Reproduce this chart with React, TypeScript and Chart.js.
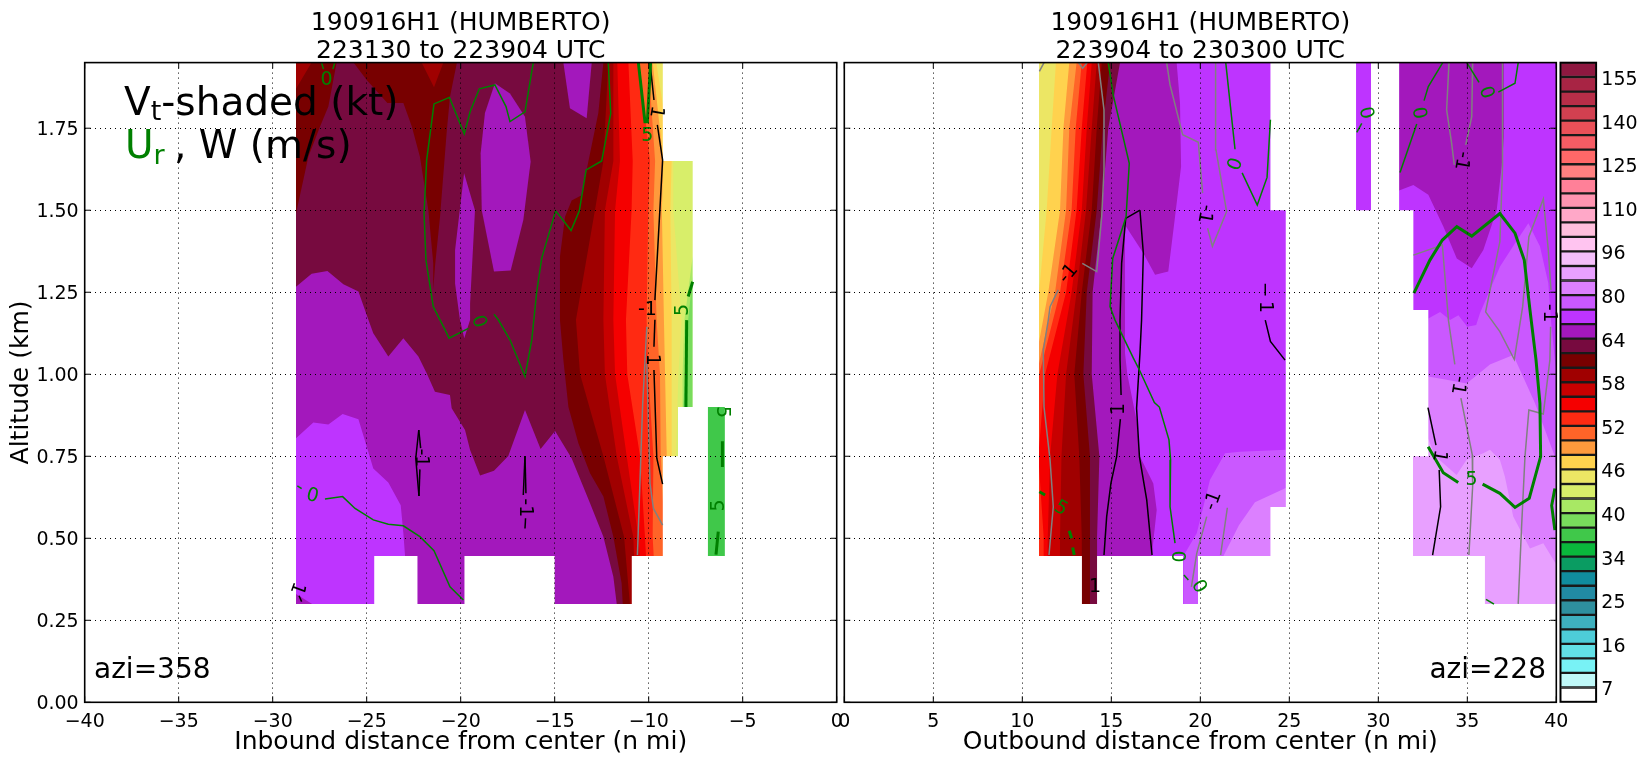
import { useEffect, useRef } from 'react'
import { Chart, registerables } from 'chart.js'

Chart.register(...registerables)
Chart.defaults.font.family = '"DejaVu Sans"'
Chart.defaults.color = '#000'

type Pt = [number, number]

// colour bar, bottom to top
const barColors = [
  '#ffffff', '#c0f9f9', '#78f2f5', '#62e0e6', '#4dccd8', '#3eb0be', '#2e909f', '#218aa3', '#108c9e',
  '#0a9c62', '#0ab83c', '#40c84a', '#78dc5c', '#a8e864', '#d8ee6a', '#ece664', '#ffd24e', '#ff9a3c',
  '#ff6428', '#ff2a12', '#f50000', '#c80000', '#a00000', '#780000', '#770a3f', '#a318bc', '#be34ff',
  '#ca58ff', '#dc80ff', '#e8a0ff', '#f4befa', '#ffc4f0', '#ffbedc', '#ffa8c8', '#ff94b0', '#ff8098',
  '#ff8080', '#ff6868', '#f65c64', '#ea5058', '#d24050', '#b82e48', '#a82444', '#8e1840',
]
const barTickIndex = [1, 4, 7, 10, 13, 16, 19, 22, 25, 28, 31, 34, 37, 40, 43]
const barTickLabels = ['7', '16', '25', '34', '40', '46', '52', '58', '64', '80', '96', '110', '125', '140', '155']

const BRIGHT = '#be34ff', PURPLE = '#a318bc', PLUM = '#770a3f', DARK = '#780000', MAROON = '#a00000'
const CRIMSON = '#c80000', RED = '#f50000', SCARLET = '#ff2a12', ORANGE = '#ff6428', AMBER = '#ff9a3c'
const GOLD = '#ffd24e', YELLOW = '#ece664', LIME = '#d8ee6a', SPRING = '#a8e864', LEAF = '#78dc5c', GREEN = '#40c84a'
const ORCHID = '#ca58ff', LILAC = '#dc80ff', PALE = '#e8a0ff'

// left panel, band edges (n mi) at these altitudes
const leftY = [1.95, 1.65, 1.5, 1.165, 1.0, 0.75, 0.505, 0.3]
const leftMaroon = [-12.15, -12.41, -12.86, -13.87, -13.65, -12.41, -11.31, -11.0]
const leftCrimson = [-11.88, -11.88, -12.33, -12.41, -12.33, -11.7, -10.82, -10.68]
const leftRed = [-11.67, -11.53, -11.79, -11.88, -11.79, -11.17, -10.55, -10.3]
const leftScarlet = [-11.08, -10.85, -10.91, -11.21, -11.14, -10.46, -10.2, -10]
const leftOrange = [-10.5, -9.93, -10.02, -10.11, -10.02, -9.75, -9.79, -9.6]
const leftAmber = [-10.02, -9.66, -9.75, -9.58, -9.4, -9.36, -9.15, -9.1]
const leftGold = [-9.79, -9.22, -9.3, -9.19, -9.13, -9.04, -9, -9]
const leftYellow = [-9.6, -8.78, -8.85, -8.78, -8.78, -8.78, -8.7, -8.7]
const leftLime = [-8.9, -8.69, -8.69, -8.25, -8.42, -8.55, -8.5, -8.5]

const leftPurpleEdge: Pt[] = [[-28.76, 0.805], [-27.84, 0.853], [-27.04, 0.847], [-26.28, 0.879], [-25.44, 0.863], [-25, 0.78], [-24.65, 0.713], [-23.85, 0.67], [-23.19, 0.601], [-23.05, 0.515], [-22.96, 0.446], [-22.96, 0.3], [0, 0.3], [0, 1.95], [-28.76, 1.95]]
const leftPlumEdge: Pt[] = [[-28.76, 1.95], [-28.76, 1.267], [-27.93, 1.306], [-27.09, 1.315], [-26.24, 1.274], [-25.44, 1.252], [-24.91, 1.166], [-24.65, 1.125], [-23.85, 1.054], [-23.05, 1.11], [-22.25, 1.054], [-21.81, 1.003], [-21.37, 0.947], [-20.57, 0.937], [-20.48, 0.896], [-19.77, 0.83], [-19.5, 0.769], [-18.97, 0.691], [-18.23, 0.706], [-17.47, 0.751], [-16.58, 0.891], [-15.75, 0.772], [-14.98, 0.827], [-14.1, 0.744], [-13.12, 0.607], [-12.41, 0.505], [-11.88, 0.383], [-11.7, 0.3], [0, 0.3], [0, 1.95]]
const leftDarkEdge: Pt[] = [[-12.41, 1.95], [-12.68, 1.796], [-13.3, 1.623], [-13.57, 1.546], [-14.1, 1.53], [-14.45, 1.48], [-14.72, 1.359], [-14.72, 1.165], [-14.54, 1.044], [-14.27, 0.9], [-13.74, 0.79], [-13.12, 0.698], [-12.41, 0.627], [-11.88, 0.505], [-11.44, 0.363], [-11.38, 0.3], [0, 0.3], [0, 1.95]]
const leftDarkCorner: Pt[] = [[-28.76, 1.95], [-28.76, 1.49], [-28.1, 1.664], [-27.48, 1.755], [-27.04, 1.816], [-26.6, 1.95]]
const leftDarkFinger: Pt[] = [[-25.7, 1.95], [-25, 1.897], [-23.9, 1.827], [-23.05, 1.827], [-22.6, 1.755], [-22.17, 1.663], [-21.72, 1.5], [-21.46, 1.338], [-21.46, 1.257], [-21.37, 1.328], [-21.1, 1.48], [-20.75, 1.735], [-20.57, 1.846], [-20.2, 1.95]]
const leftMaroonA: Pt[] = [[-28.76, 1.95], [-28.76, 1.87], [-27.93, 1.95]]
const leftMaroonB: Pt[] = [[-22.08, 1.95], [-21.42, 1.875], [-20.92, 1.95]]
const leftIslandA: Pt[] = [[-14.54, 1.95], [-14.19, 1.811], [-13.3, 1.78], [-13.03, 1.95]]
const leftIslandB: Pt[] = [[-18.18, 1.887], [-18.71, 1.796], [-18.94, 1.674], [-18.88, 1.5], [-18.23, 1.313], [-17.34, 1.316], [-16.67, 1.47], [-16.28, 1.648], [-16.58, 1.785], [-17.38, 1.856]]
const leftIslandC: Pt[] = [[-19.82, 1.613], [-20.3, 1.378], [-20.3, 1.277], [-20.04, 1.165], [-19.81, 1.11], [-19.5, 1.166], [-19.5, 1.216], [-19.24, 1.5]]
const leftCornerPurple: Pt[] = [[-28.76, 0.3], [-28.76, 0.33], [-27.9, 0.3]]
const leftSpring: Pt[] = [[-7.66, 1.36], [-8.1, 1.165], [-8.2, 1.0], [-8.2, 0.9], [-7.66, 0.9]]
const leftLeaf: Pt[] = [[-7.66, 1.3], [-7.9, 1.165], [-8.16, 0.9], [-7.66, 0.9]]
const leftStrip: Pt[] = [[-6.85, 0.9], [-5.95, 0.9], [-5.95, 0.446], [-6.85, 0.446]]
// no data in these parts of the left section
const leftHoleA: Pt[] = [[-24.6, 0.3], [-22.3, 0.3], [-22.3, 0.446], [-24.6, 0.446]]
const leftHoleB: Pt[] = [[-19.8, 0.3], [-15, 0.3], [-15, 0.446], [-19.8, 0.446]]
const leftHoleC: Pt[] = [[-10.9, 0.3], [-10.9, 0.446], [-9.25, 0.446], [-9.25, 0.75], [-8.44, 0.75], [-8.44, 0.9], [-7.66, 0.9], [-7.66, 1.65], [-9.25, 1.65], [-9.25, 1.95], [0, 1.95], [0, 0.3]]

const leftThinGreen: Pt[][] = [
  [[-16.14, 1.95], [-16.58, 1.8], [-17.38, 1.77], [-17.59, 1.816], [-18.18, 1.882], [-19.01, 1.87], [-19.5, 1.8], [-19.81, 1.733], [-20.6, 1.844], [-21.42, 1.824], [-21.81, 1.653], [-21.95, 1.49], [-21.85, 1.349], [-21.46, 1.206], [-20.83, 1.135], [-20.62, 1.11], [-19.59, 1.14]],
  [[-18.23, 1.183], [-18, 1.166], [-17.38, 1.105], [-16.58, 0.993], [-16.22, 1.105], [-15.96, 1.25], [-15.69, 1.354], [-14.95, 1.498], [-14.13, 1.438], [-13.69, 1.498], [-13.33, 1.623], [-12.5, 1.65], [-12.02, 1.795], [-12.15, 1.95]],
  [[-27.4, 1.95], [-27.3, 1.93]],
  [[-26.7, 1.95], [-26.8, 1.93]],
  [[-28.69, 0.66], [-28.46, 0.651]],
  [[-27.22, 0.62], [-26.28, 0.627], [-25.62, 0.591], [-24.65, 0.556], [-23.85, 0.543], [-23.05, 0.538], [-22.17, 0.505], [-21.42, 0.462], [-20.57, 0.352], [-19.86, 0.312]],
]
const leftThickGreen: Pt[][] = [
  [[-10.55, 1.95], [-10.2, 1.77], [-10.07, 1.77], [-9.9, 1.95]],
  [[-7.66, 1.282], [-7.9, 1.237]],
  [[-7.98, 1.165], [-8.02, 0.9]],
  [[-6.08, 0.796], [-6.08, 0.717]],
  [[-6.3, 0.52], [-6.42, 0.45]],
]
const leftBlack: Pt[][] = [
  [[-9.93, 1.95], [-9.72, 1.836]],
  [[-9.54, 1.76], [-9.26, 1.653], [-9.67, 1.226]],
  [[-9.67, 1.166], [-9.72, 1.084]],
  [[-9.72, 1.013], [-9.57, 0.744], [-9.26, 0.665]],
  [[-22.23, 0.83], [-22.39, 0.744], [-22.22, 0.629]],
  [[-22.23, 0.83], [-22.13, 0.775]],
  [[-22.17, 0.71], [-22.22, 0.629]],
  [[-16.58, 0.751], [-16.67, 0.632]],
  [[-16.58, 0.751], [-16.53, 0.637]],
  [[-16.55, 0.561], [-16.58, 0.53]],
  [[-28.6, 0.325], [-28.46, 0.307]],
]
const leftGray: Pt[][] = [
  [[-10.1, 1.145], [-10.32, 0.91], [-10.6, 0.449]],
  [[-10.1, 1.033], [-9.93, 0.667], [-9.75, 0.591], [-9.26, 0.54]],
]
const leftLabels: [number, number, string, number, string][] = [
  [-27.13, 1.897, '0', 0, 'g'], [-19.06, 1.16, '0', 70, 'g'], [-27.89, 0.629, '0', 15, 'g'], [-10.07, 1.727, '5', 0, 'g'],
  [-8.16, 1.196, '5', -90, 'g'], [-6.08, 0.885, '5', 90, 'g'], [-6.25, 0.6, '5', -90, 'g'],
  [-9.61, 1.8, '1', 100, 'k'], [-10.07, 1.196, '-1', 0, 'k'], [-9.84, 1.044, '1', 90, 'k'],
  [-22.1, 0.745, '-1', 90, 'k'], [-16.58, 0.593, '-1', 90, 'k'], [-28.7, 0.348, '1', 110, 'k'],
]

// right panel
const rightY = [1.95, 1.75, 1.5, 1.25, 1.0, 0.75, 0.505, 0.3]
const rightGold = [11.89, 11.65, 11.37, 10.94, 10.5, 10.5, 10.5, 10.5]
const rightAmber = [12.64, 12.31, 12.12, 11.46, 10.6, 10.5, 10.5, 10.5]
const rightOrange = [13.05, 12.64, 12.46, 11.84, 10.8, 10.5, 10.5, 10.5]
const rightScarlet = [13.34, 13, 12.77, 12.12, 10.95, 10.5, 10.5, 10.5]
const rightRed = [13.65, 13.34, 13.05, 12.46, 11.28, 10.9, 11.2, 11.2]
const rightCrimson = [13.9, 13.62, 13.34, 12.77, 11.97, 11.56, 11.43, 11.4]
const rightMaroon = [14.18, 13.9, 13.58, 13.05, 12.46, 12.2, 12.12, 12.1]
const rightDark = [14.46, 14.18, 13.9, 13.34, 12.92, 13.2, 13.34, 13.35]
const rightPlum = [14.93, 14.52, 14.18, 13.62, 13.43, 13.8, 13.8, 13.8]
const rightPurple = [15.49, 14.83, 14.46, 13.95, 13.9, 14.33, 14.2, 14.2]

const rightBrightEdge: Pt[] = [[18.67, 1.95], [18.86, 1.826], [18.92, 1.633], [18.58, 1.48], [18.2, 1.313], [17.46, 1.303], [16.8, 1.369], [15.77, 1.455], [15.77, 1.064], [15.9, 1.0], [16.42, 0.86], [16.61, 0.749], [17.36, 0.667], [17.55, 0.586], [17.27, 0.446], [17.27, 0.3], [40, 0.3], [40, 1.95]]
const rightIsland: Pt[] = [[31.17, 1.95], [31.17, 1.56], [31.97, 1.577], [32.81, 1.547], [33.66, 1.45], [34.41, 1.353], [35.25, 1.323], [35.9, 1.379], [36.65, 1.5], [36.93, 1.633], [37.06, 1.724], [37.06, 1.95]]
const rightOrchidA: Pt[] = [[32.81, 1.17], [33.47, 1.19], [34.03, 1.165], [34.5, 1.18], [35, 1.145], [35.5, 1.15], [35.71, 1.186], [36.27, 1.257], [36.83, 1.328], [37.68, 1.399], [38.43, 1.46], [39.08, 1.39], [39.55, 1.278], [39.7, 1.165], [40, 1.0], [40, 0.3], [32, 0.3]]
const rightLilacA: Pt[] = [[32.79, 0.993], [33.84, 0.983], [34.96, 0.972], [35.9, 1.013], [36.27, 1.03], [37.58, 1.059], [38.8, 0.912], [39.92, 0.749], [40, 0.7], [40, 0.3], [32, 0.3]]
const rightPaleA: Pt[] = [[31.95, 0.75], [32.79, 0.805], [33.2, 0.75], [34.4, 0.693], [34.96, 0.739], [35.9, 0.759], [36.27, 0.77], [36.83, 0.739], [37.11, 0.688], [37.58, 0.566], [38.52, 0.469], [39.27, 0.485], [40, 0.42], [40, 0.3], [31.95, 0.3]]
const rightOrchidB: Pt[] = [[19.05, 0.3], [19.05, 0.446], [19.8, 0.515], [20.54, 0.678], [21.39, 0.759], [22.23, 0.764], [24.8, 0.77], [24.8, 0.3]]
const rightLilacB: Pt[] = [[21.3, 0.446], [22.17, 0.54], [23.07, 0.61], [24.8, 0.653], [24.8, 0.446]]
// no data in these parts of the right section
const rightHoleA: Pt[] = [[5, 0.2], [5, 2], [10.94, 2], [10.94, 0.446], [13.35, 0.446], [13.35, 0.2]]
const rightHoleB: Pt[] = [[14.2, 0.3], [14.2, 0.446], [19.03, 0.446], [19.03, 0.3]]
const rightHoleC: Pt[] = [[23.94, 1.95], [23.94, 1.5], [24.8, 1.5], [24.8, 0.595], [23.94, 0.595], [23.94, 0.446], [19.87, 0.446], [19.87, 0.3], [35.99, 0.3], [35.99, 0.446], [31.95, 0.446], [31.95, 0.75], [32.81, 0.75], [32.81, 1.196], [31.97, 1.196], [31.97, 1.5], [31.17, 1.5], [31.17, 1.95], [29.59, 1.95], [29.59, 1.5], [28.75, 1.5], [28.75, 1.95]]

const rightThinGreen: Pt[][] = [
  [[14.83, 1.95], [15.11, 1.851], [16.01, 1.643], [15.83, 1.48], [15.08, 1.353], [14.93, 1.206], [15.21, 1.165], [16.24, 1.049], [16.58, 1.013], [17.42, 0.914], [17.7, 0.9], [18.24, 0.8], [18.33, 0.739], [18.3, 0.596], [18.58, 0.485]],
  [[19.08, 0.388], [19.33, 0.373]],
  [[21.43, 1.95], [21.95, 1.686]],
  [[22.35, 1.614], [23.2, 1.516], [23.75, 1.6], [23.94, 1.776]],
  [[28.79, 1.737], [29.07, 1.765]],
  [[31.22, 1.615], [32.16, 1.763]],
  [[32.57, 1.834], [32.81, 1.877], [33.62, 1.95]],
  [[34.97, 1.95], [35.66, 1.89]],
  [[36.74, 1.86], [37.68, 1.887], [37.86, 1.95]],
  [[36.05, 0.314], [36.5, 0.299]],
]
const rightThickGreen: Pt[][] = [
  [[32, 1.247], [32.9, 1.348], [33.6, 1.409], [34.41, 1.45], [35.25, 1.421], [36.83, 1.49], [37.68, 1.43], [38.2, 1.348], [38.52, 1.196], [38.86, 1.044], [39.08, 0.911], [39.12, 0.749], [38.48, 0.622], [37.68, 0.594], [36.83, 0.637], [35.86, 0.665]],
  [[34.49, 0.67], [33.65, 0.7], [32.8, 0.779]],
  [[39.92, 0.652], [39.74, 0.6], [39.92, 0.525]],
  [[10.96, 0.642], [11.28, 0.632]],
  [[12.64, 0.523], [12.77, 0.5]],
  [[12.83, 0.472], [12.92, 0.449]],
]
const rightBlack: Pt[][] = [
  [[16.61, 1.5], [15.81, 1.475], [15.58, 1.338], [15.49, 1.165], [15.49, 1.044], [15.55, 0.937]],
  [[15.51, 0.863], [15.3, 0.749], [14.98, 0.668], [14.74, 0.566], [14.59, 0.449]],
  [[16.61, 1.5], [16.8, 1.369], [16.7, 1.165], [16.61, 1.064], [16.42, 0.896], [16.58, 0.749], [16.99, 0.617], [17.17, 0.515], [17.29, 0.449]],
  [[23.65, 1.276], [23.65, 1.24]],
  [[23.65, 1.165], [23.94, 1.1], [24.76, 1.043]],
  [[32.79, 0.898], [33.24, 0.784]],
  [[33.42, 0.708], [33.5, 0.596], [33.05, 0.449]],
]
const rightGray: Pt[][] = [
  [[14.27, 1.95], [14.59, 1.806], [14.59, 1.623], [14.46, 1.48], [14.18, 1.313], [13.37, 1.338]],
  [[10.96, 1.923], [11.22, 1.95]],
  [[13.15, 1.95], [13.39, 1.933], [13.65, 1.95]],
  [[12.02, 1.257], [11.56, 1.206], [11.46, 1.165], [11.18, 1.074], [11.22, 0.9], [11.56, 0.739], [11.74, 0.596], [11.5, 0.449]],
  [[18.11, 1.95], [18.3, 1.882], [19.01, 1.73], [19.89, 1.707], [20.13, 1.552]],
  [[20.41, 1.445], [20.68, 1.39], [21.48, 1.496], [20.88, 1.684], [20.86, 1.95]],
  [[20.36, 0.566], [19.8, 0.454], [19.5, 0.352]],
  [[21.52, 0.593], [21.14, 0.449]],
  [[33.97, 1.95], [33.84, 1.806], [34.12, 1.704], [34.27, 1.638]],
  [[35.3, 1.95], [35.25, 1.785], [34.91, 1.699]],
  [[31.97, 1.363], [33.6, 1.394], [33.94, 1.165], [34.3, 1.03]],
  [[34.64, 0.927], [35.28, 0.754], [35.3, 0.658], [35.09, 0.449]],
  [[36.98, 1.95], [36.98, 1.633], [36.83, 1.404], [36.03, 1.19], [36.83, 1.13], [37.64, 1.045], [38.11, 1.206], [38.46, 1.419], [39.27, 1.534], [39.55, 1.379], [39.7, 1.257]],
  [[39.68, 1.145], [39.64, 1.044], [39.27, 0.879], [38.46, 0.891], [38.24, 0.749], [38.05, 0.535], [37.86, 0.3]],
]
const rightLabels: [number, number, string, number, string][] = [
  [15.45, 0.894, '1', -90, 'k'], [14.09, 0.352, '1', 0, 'k'], [12.6, 1.306, '-1', -50, 'k'], [20.26, 1.489, '-1', 100, 'k'],
  [23.65, 1.205, '1', 90, 'k'], [20.73, 0.614, '-1', -70, 'k'], [34.69, 1.651, '-1', 100, 'k'], [34.49, 0.967, '-1', 100, 'k'],
  [33.42, 0.751, '1', 100, 'k'], [39.6, 1.186, '-1', 90, 'k'],
  [18.67, 0.444, '0', 90, 'g'], [19.9, 0.352, '0', 60, 'g'], [22, 1.64, '0', -70, 'g'], [29.29, 1.796, '0', 75, 'g'],
  [32.25, 1.796, '0', 80, 'g'], [36.05, 1.858, '0', 70, 'g'], [12.16, 0.591, '5', 30, 'g'], [35.24, 0.678, '5', 0, 'g'],
]

const pts = (p: Pt[]) => p.map(([x, y]) => ({ x, y }))
const band = (xs: number[], ys: number[], end: number): Pt[] => [
  ...xs.map((x, i): Pt => [x, ys[i]]),
  [end, ys[ys.length - 1]],
  [end, ys[0]],
]

type Shape = [Pt[], string]
const leftShapes: Shape[] = [
  [[[-28.76, 0.3], [0, 0.3], [0, 1.95], [-28.76, 1.95]], BRIGHT],
  [leftPurpleEdge, PURPLE],
  [leftCornerPurple, PURPLE],
  [leftPlumEdge, PLUM],
  [leftIslandA, PURPLE],
  [leftIslandB, PURPLE],
  [leftIslandC, PURPLE],
  [leftDarkCorner, DARK],
  [leftDarkFinger, DARK],
  [leftMaroonA, MAROON],
  [leftMaroonB, MAROON],
  [leftDarkEdge, DARK],
  [band(leftMaroon, leftY, 0), MAROON],
  [band(leftCrimson, leftY, 0), CRIMSON],
  [band(leftRed, leftY, 0), RED],
  [band(leftScarlet, leftY, 0), SCARLET],
  [band(leftOrange, leftY, 0), ORANGE],
  [band(leftAmber, leftY, 0), AMBER],
  [band(leftGold, leftY, 0), GOLD],
  [band(leftYellow, leftY, 0), YELLOW],
  [band(leftLime, leftY, 0), LIME],
  [leftSpring, SPRING],
  [leftLeaf, LEAF],
  [leftHoleA, '#ffffff'],
  [leftHoleB, '#ffffff'],
  [leftHoleC, '#ffffff'],
  [leftStrip, GREEN],
]
const rightShapes: Shape[] = [
  [[[10.94, 0.3], [40, 0.3], [40, 1.95], [10.94, 1.95]], YELLOW],
  [band(rightGold, rightY, 40), GOLD],
  [band(rightAmber, rightY, 40), AMBER],
  [band(rightOrange, rightY, 40), ORANGE],
  [band(rightScarlet, rightY, 40), SCARLET],
  [band(rightRed, rightY, 40), RED],
  [band(rightCrimson, rightY, 40), CRIMSON],
  [band(rightMaroon, rightY, 40), MAROON],
  [band(rightDark, rightY, 40), DARK],
  [band(rightPlum, rightY, 40), PLUM],
  [band(rightPurple, rightY, 40), PURPLE],
  [rightBrightEdge, BRIGHT],
  [rightIsland, PURPLE],
  [rightOrchidA, ORCHID],
  [rightLilacA, LILAC],
  [rightPaleA, PALE],
  [rightOrchidB, ORCHID],
  [rightLilacB, LILAC],
  [rightHoleA, '#ffffff'],
  [rightHoleB, '#ffffff'],
  [rightHoleC, '#ffffff'],
]

function buildDatasets(shapes: Shape[], thin: Pt[][], thick: Pt[][], black: Pt[][], gray: Pt[][]) {
  const line = (p: Pt[], color: string, width: number) => ({
    data: pts(p), showLine: true, fill: false, borderColor: color, borderWidth: width, pointRadius: 0,
  })
  const all: any[] = [
    ...shapes.map(([p, color]) => ({
      data: pts(p), showLine: true, fill: 'shape', backgroundColor: color, borderWidth: 0, pointRadius: 0,
    })),
    ...gray.map((p) => line(p, '#808080', 1.5)),
    ...black.map((p) => line(p, '#000000', 1.5)),
    ...thin.map((p) => line(p, '#008000', 1.5)),
    ...thick.map((p) => line(p, '#008000', 3)),
  ]
  // chart.js paints the lowest order last
  return all.map((d, i) => ({ ...d, order: all.length - i }))
}

const framePlugin = {
  id: 'frameTicks',
  afterDraw(chart: any) {
    const { ctx, chartArea: a, scales } = chart
    ctx.save()
    ctx.strokeStyle = '#000'
    ctx.lineWidth = 1
    ctx.beginPath()
    scales.x.ticks.forEach((t: any) => {
      const px = scales.x.getPixelForValue(t.value)
      ctx.moveTo(px, a.bottom); ctx.lineTo(px, a.bottom - 6)
      ctx.moveTo(px, a.top); ctx.lineTo(px, a.top + 6)
    })
    scales.y.ticks.forEach((t: any) => {
      const py = scales.y.getPixelForValue(t.value)
      ctx.moveTo(a.left, py); ctx.lineTo(a.left + 6, py)
      ctx.moveTo(a.right, py); ctx.lineTo(a.right - 6, py)
    })
    ctx.stroke()
    ctx.lineWidth = 1.6
    ctx.strokeRect(a.left, a.top, a.right - a.left, a.bottom - a.top)
    ctx.restore()
  },
}

const barFrame = {
  id: 'barFrame',
  afterDraw(chart: any) {
    const { ctx, chartArea: a } = chart
    ctx.save()
    ctx.strokeStyle = '#000'
    ctx.lineWidth = 1.6
    ctx.strokeRect(a.left, a.top, a.right - a.left, a.bottom - a.top)
    ctx.restore()
  },
}

const labelPlugin = (labels: [number, number, string, number, string][]) => ({
  id: 'contourLabels',
  afterDatasetsDraw(chart: any) {
    const { ctx, scales } = chart
    ctx.save()
    ctx.font = '19px "DejaVu Sans"'
    ctx.textAlign = 'center'
    ctx.textBaseline = 'middle'
    labels.forEach(([x, y, text, rot, c]) => {
      ctx.save()
      ctx.translate(scales.x.getPixelForValue(x), scales.y.getPixelForValue(y))
      ctx.rotate((rot * Math.PI) / 180)
      ctx.fillStyle = c === 'g' ? '#008000' : '#000'
      ctx.fillText(text, 0, 0)
      ctx.restore()
    })
    ctx.restore()
  },
})

const notePlugin = (azi: string, aziX: number, align: CanvasTextAlign, legend: boolean) => ({
  id: 'notes',
  afterDraw(chart: any) {
    const { ctx } = chart
    ctx.save()
    ctx.textBaseline = 'alphabetic'
    ctx.fillStyle = '#000'
    ctx.textAlign = align
    ctx.font = '28px "DejaVu Sans"'
    ctx.fillText(azi, aziX, 678)
    if (legend) {
      ctx.textAlign = 'left'
      ctx.font = '39px "DejaVu Sans"'
      ctx.fillText('V', 124, 115)
      let w = 124 + ctx.measureText('V').width
      ctx.font = '27px "DejaVu Sans"'
      ctx.fillText('t', w, 120)
      w += ctx.measureText('t').width
      ctx.font = '39px "DejaVu Sans"'
      ctx.fillText('-shaded (kt)', w, 115)
      ctx.fillStyle = '#008000'
      ctx.fillText('U', 125, 158)
      w = 125 + ctx.measureText('U').width
      ctx.font = '27px "DejaVu Sans"'
      ctx.fillText('r', w, 164)
      ctx.fillStyle = '#000'
      ctx.font = '39px "DejaVu Sans"'
      ctx.fillText(', W (m/s)', 174, 158)
    }
    ctx.restore()
  },
})

function panelConfig(opts: {
  datasets: any[]; plugins: any[]; xMin: number; xMax: number; xTitle: string; title: string[];
  yWidth: number; yLabels: boolean; padRight: number;
}): any {
  const grid = { z: 1, color: '#000', lineWidth: 1, drawTicks: false }
  const border = { display: false, dash: [1, 4] }
  return {
    type: 'scatter',
    data: { datasets: opts.datasets },
    plugins: opts.plugins,
    options: {
      animation: false,
      responsive: false,
      devicePixelRatio: 1,
      layout: { padding: { left: 0, right: opts.padRight, top: 0, bottom: 0 } },
      plugins: {
        legend: { display: false },
        tooltip: { enabled: false },
        title: {
          display: true, fullSize: false, text: opts.title, color: '#000',
          font: { size: 25, weight: 'normal', lineHeight: 1.13 },
          padding: { top: 9.5, bottom: -3.4 },
        },
      },
      scales: {
        x: {
          type: 'linear', min: opts.xMin, max: opts.xMax,
          afterFit: (s: any) => { s.height = 59.7 },
          border,
          grid,
          ticks: {
            stepSize: 5, autoSkip: false, maxRotation: 0, padding: 8,
            font: { size: 19 },
            callback: (v: number) => String(v).replace('-', '\u2212'),
          },
          title: {
            display: true, text: opts.xTitle, font: { size: 25 }, color: '#000',
            padding: { top: 0, bottom: 5 },
          },
        },
        y: {
          type: 'linear', min: 0, max: 1.95,
          afterFit: (s: any) => { s.width = opts.yWidth },
          border,
          grid,
          ticks: {
            display: opts.yLabels, stepSize: 0.25, includeBounds: false, padding: 6, labelOffset: 2,
            font: { size: 19 },
            callback: (v: number) => v.toFixed(2),
          },
          title: {
            display: opts.yLabels, text: 'Altitude (km)', font: { size: 25 }, color: '#000',
            padding: { top: 6, bottom: 0 },
          },
        },
      },
    },
  }
}

function barConfig(): any {
  return {
    type: 'bar',
    data: {
      labels: [''],
      datasets: barColors.map((c) => ({
        data: [1], backgroundColor: c, borderColor: '#1a1a1a', borderWidth: 1.5, borderSkipped: false,
        barPercentage: 1, categoryPercentage: 1,
      })),
    },
    plugins: [barFrame],
    options: {
      animation: false,
      responsive: false,
      devicePixelRatio: 1,
      layout: { padding: { left: 10.3, right: 0, top: 62.5, bottom: 60 } },
      plugins: { legend: { display: false }, tooltip: { enabled: false } },
      scales: {
        x: { stacked: true, display: false },
        y: {
          stacked: true, position: 'right', min: 0, max: barColors.length,
          afterFit: (s: any) => { s.width = 48.7 },
          afterBuildTicks: (s: any) => { s.ticks = barTickIndex.map((value) => ({ value })) },
          border: { display: false },
          grid: { display: false, drawTicks: false },
          ticks: {
            autoSkip: false, padding: 5, labelOffset: 3, font: { size: 19 }, align: 'center',
            callback: (v: number) => barTickLabels[barTickIndex.indexOf(v)],
          },
        },
      },
    },
  }
}

const abs = (left: number, width: number) => ({ position: 'absolute', left, top: 0, width, height: 762 } as const)

export default function App() {
  const leftRef = useRef<HTMLCanvasElement>(null)
  const rightRef = useRef<HTMLCanvasElement>(null)
  const barRef = useRef<HTMLCanvasElement>(null)

  useEffect(() => {
    if (!leftRef.current || !rightRef.current || !barRef.current) return
    const left = new Chart(leftRef.current, panelConfig({
      datasets: buildDatasets(leftShapes, leftThinGreen, leftThickGreen, leftBlack, leftGray),
      plugins: [framePlugin, labelPlugin(leftLabels), notePlugin('azi=358', 94, 'left', true)],
      xMin: -40, xMax: 0, xTitle: 'Inbound distance from center (n mi)',
      title: ['190916H1 (HUMBERTO)', '223130 to 223904 UTC'],
      yWidth: 84.7, yLabels: true, padRight: 23.3,
    }))
    const right = new Chart(rightRef.current, panelConfig({
      datasets: buildDatasets(rightShapes, rightThinGreen, rightThickGreen, rightBlack, rightGray),
      plugins: [framePlugin, labelPlugin(rightLabels), notePlugin('azi=228', 726, 'right', false)],
      xMin: 0, xMax: 40, xTitle: 'Outbound distance from center (n mi)',
      title: ['190916H1 (HUMBERTO)', '223904 to 230300 UTC'],
      yWidth: 24.3, yLabels: false, padRight: 23.7,
    }))
    const bar = new Chart(barRef.current, barConfig())
    return () => { left.destroy(); right.destroy(); bar.destroy() }
  }, [])

  return (
    <div style={{ position: 'absolute', left: 0, top: 0, width: 1645, height: 762, background: '#fff', overflow: 'hidden' }}>
      <canvas ref={leftRef} width={860} height={762} style={abs(0, 860)} />
      <canvas ref={rightRef} width={760} height={762} style={abs(820, 760)} />
      <canvas ref={barRef} width={95} height={762} style={abs(1550, 95)} />
    </div>
  )
}
